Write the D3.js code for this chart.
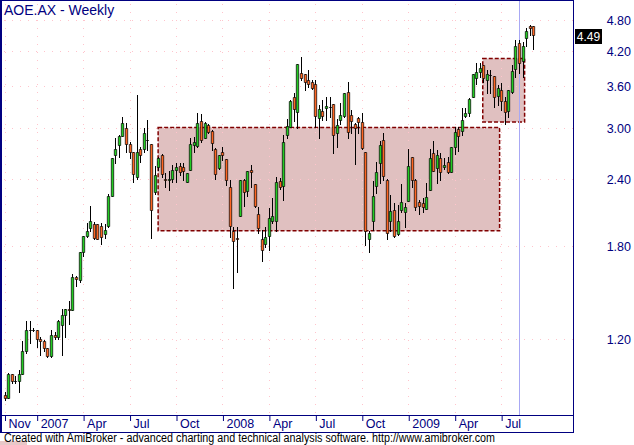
<!DOCTYPE html>
<html>
<head>
<meta charset="utf-8">
<script src="https://cdn.jsdelivr.net/npm/d3@7"></script>
<style>
  html, body { margin: 0; padding: 0; background: #fff; }
  svg { display: block; }
</style>
</head>
<body>
<div id="chart"></div>
<script>
// ---------------- DATA ----------------
const title = "AOE.AX - Weekly";
const firstWeek = "2006-11-03";   // weekly bars, one per Friday

const openP = [0.94,0.93,1.03,1.00,1.00,1.03,1.14,1.25,1.25,1.25,1.20,1.19,1.155,1.115,1.22,1.21,1.275,1.33,1.37,1.36,
  1.57,1.55,1.75,1.88,1.94,1.975,1.975,1.96,1.895,1.96,2.235,2.67,2.785,2.905,3.00,2.80,2.71,2.43,2.735,2.735,
  2.85,2.80,2.275,2.53,2.665,2.40,2.395,2.41,2.505,2.54,2.53,2.375,2.50,2.79,2.78,3.095,2.88,3.04,2.965,2.745,
  2.525,2.70,2.62,2.32,1.915,1.865,2.05,2.395,2.285,2.50,2.35,2.065,1.855,1.81,1.875,2.005,2.00,2.385,2.33,2.915,
  3.01,3.43,3.22,3.805,3.795,3.70,3.67,3.635,3.135,3.23,3.27,3.295,3.33,2.935,3.11,3.165,3.505,3.17,3.05,3.13,
  3.075,2.70,1.85,2.00,2.335,2.575,2.855,2.395,2.00,2.105,1.89,2.10,2.085,2.19,2.645,2.395,2.175,2.17,2.115,2.295,
  2.69,2.525,2.63,2.53,2.595,2.48,2.76,2.985,2.965,3.16,3.21,3.44,3.725,3.835,3.945,3.705,3.78,3.76,3.455,3.54,
  3.38,3.235,3.515,3.88,4.335,4.02,4.43,4.67,4.67];
const highP = [0.955,1.035,1.03,1.02,1.05,1.19,1.30,1.30,1.26,1.25,1.21,1.195,1.155,1.25,1.235,1.305,1.37,1.37,1.415,1.59,
  1.575,1.75,1.88,1.99,2.14,1.995,1.98,1.985,1.98,2.25,2.635,2.875,2.91,3.145,3.07,2.83,2.71,3.46,2.77,3.00,
  3.11,2.80,2.54,2.645,2.68,2.465,2.49,2.555,2.575,2.575,2.575,2.465,2.88,2.89,3.20,3.19,3.085,3.055,2.97,2.75,
  2.67,2.765,2.62,2.395,1.95,1.955,2.395,2.40,2.49,2.555,2.35,2.13,1.925,1.955,2.12,2.21,2.43,2.415,2.91,3.115,
  3.39,3.49,3.96,4.08,3.80,3.86,3.70,3.70,3.315,3.39,3.44,3.43,3.33,3.115,3.34,3.49,3.66,3.245,3.07,3.15,
  3.20,2.70,1.915,2.385,2.595,2.84,2.935,2.40,2.245,2.165,2.15,2.355,2.17,2.74,2.645,2.40,2.195,2.21,2.36,2.735,
  2.835,2.73,2.69,2.63,2.65,2.765,3.01,3.01,3.27,3.27,3.415,3.79,3.975,3.975,3.95,3.87,3.87,3.765,3.62,3.645,
  3.43,3.54,3.945,4.40,4.40,4.365,4.63,4.695,4.68];
const lowP = [0.92,0.93,0.99,0.99,0.955,1.03,1.13,1.18,1.24,1.16,1.12,1.14,1.11,1.11,1.20,1.20,1.12,1.21,1.28,1.36,
  1.51,1.535,1.72,1.87,1.92,1.855,1.85,1.815,1.86,1.955,2.235,2.575,2.65,2.905,2.71,2.64,2.37,2.40,2.59,2.71,
  2.73,1.865,2.255,2.50,2.43,2.325,2.29,2.375,2.375,2.445,2.395,2.375,2.50,2.71,2.765,2.83,2.87,2.94,2.73,2.40,
  2.51,2.61,2.345,1.87,1.495,1.605,2.045,2.14,2.235,2.325,2.125,1.90,1.685,1.79,1.765,1.985,1.92,2.30,2.195,2.88,
  3.01,3.10,3.00,3.70,3.54,3.59,3.55,3.02,2.87,3.11,3.11,3.15,2.69,2.765,3.06,3.15,2.88,2.935,2.565,2.935,
  2.74,1.805,1.75,1.925,2.26,2.36,2.395,1.855,1.915,1.87,1.885,2.085,1.955,2.19,2.325,2.10,2.07,2.085,2.11,2.29,
  2.49,2.365,2.395,2.515,2.465,2.48,2.68,2.72,2.91,3.15,3.16,3.44,3.635,3.75,3.67,3.50,3.50,3.285,3.315,3.245,
  3.055,3.15,3.49,3.75,3.805,3.75,4.29,4.50,4.24];
const closeP = [0.93,1.03,1.00,1.00,1.03,1.14,1.25,1.25,1.25,1.20,1.19,1.155,1.115,1.22,1.21,1.30,1.33,1.37,1.36,1.57,
  1.555,1.75,1.88,1.92,2.00,1.86,1.855,1.87,1.93,2.235,2.63,2.745,2.905,3.065,2.80,2.71,2.455,2.70,2.665,2.935,
  2.845,2.105,2.445,2.64,2.455,2.395,2.40,2.50,2.53,2.48,2.49,2.465,2.795,2.825,3.065,2.855,3.065,2.955,2.81,2.455,
  2.665,2.675,2.395,1.96,1.835,1.85,2.395,2.275,2.485,2.475,2.14,1.94,1.77,1.87,2.03,2.045,2.37,2.325,2.82,3.03,
  3.375,3.265,3.96,3.735,3.67,3.64,3.565,3.165,3.255,3.165,3.30,3.29,2.915,3.035,3.175,3.49,2.945,3.09,3.00,3.085,
  2.755,1.915,1.90,2.235,2.475,2.785,2.44,1.905,2.09,1.875,2.00,2.18,2.125,2.545,2.39,2.13,2.14,2.125,2.22,2.64,
  2.495,2.665,2.48,2.555,2.475,2.76,2.955,2.90,3.11,3.20,3.40,3.79,3.825,3.89,3.735,3.79,3.775,3.43,3.565,3.38,
  3.22,3.54,3.845,4.285,3.975,4.285,4.575,4.64,4.49];

// shaded ranges drawn on the chart (start date, end date, top price, bottom price)
const boxStart  = ["2007-08-30", "2009-05-27"];
const boxEnd    = ["2009-06-29", "2009-08-17"];
const boxTop    = [3.01, 4.06];
const boxBottom = [1.92, 3.08];

const cursorDate = "2009-08-07";

const yTicks = [1.20, 1.80, 2.40, 3.00, 3.60, 4.20, 4.80];
const xTickDates  = ["2006-11-03","2007-01-05","2007-04-06","2007-07-06","2007-10-05","2008-01-04",
                     "2008-04-04","2008-07-04","2008-10-03","2009-01-02","2009-04-03","2009-07-03"];
const xTickLabels = ["Nov","2007","Apr","Jul","Oct","2008","Apr","Jul","Oct","2009","Apr","Jul"];

const footer = "Created with AmiBroker - advanced charting and technical analysis software. http://www.amibroker.com";

// ---------------- CHART ----------------
const W = 634, H = 445;
const plotLeft = 1, plotRight = 573, plotTop = 0, plotBottom = 415, axisBottomY = 432;
const navy = "#000080";
const upColor = "#22cc22", downColor = "#ff6622";
const gridColor = "#ffc4cc";
const font = "'Liberation Sans', Arial, sans-serif";

const parse = d3.timeParse("%Y-%m-%d");
const start = parse(firstWeek);
const dates = openP.map((_, i) => d3.timeDay.offset(start, 7 * i));
const bars = dates.map((d, i) => ({ date: d, o: openP[i], h: highP[i], l: lowP[i], c: closeP[i] }));

const x = d3.scaleTime().domain([dates[0], dates[dates.length - 1]]).range([5, 533.8]);
const y = d3.scaleLog().domain([0.8624, 5.236]).range([plotBottom, plotTop]);

const svg = d3.select("#chart").append("svg").attr("width", W).attr("height", H)
  .style("font-family", font);
svg.append("rect").attr("width", W).attr("height", H).attr("fill", "#fff");

// shaded boxes
const boxes = boxStart.map((s, i) => ({ s: parse(s), e: parse(boxEnd[i]), t: boxTop[i], b: boxBottom[i] }));
svg.append("g").selectAll("rect").data(boxes).join("rect")
  .attr("x", d => x(d.s)).attr("y", d => y(d.t))
  .attr("width", d => x(d.e) - x(d.s)).attr("height", d => y(d.b) - y(d.t))
  .attr("fill", "#e0c0c0").attr("stroke", "#800000").attr("stroke-width", 1.5)
  .attr("stroke-dasharray", "4,2");

// grid
const grid = svg.append("g");
grid.selectAll("line.h").data(yTicks).join("line").attr("class", "h")
  .attr("x1", 4).attr("x2", 578)
  .attr("y1", d => Math.round(y(d)) + 0.5).attr("y2", d => Math.round(y(d)) + 0.5)
  .attr("stroke", gridColor).attr("stroke-dasharray", "1,7");
grid.selectAll("line.v").data(xTickDates.map(parse)).join("line").attr("class", "v")
  .attr("x1", d => Math.floor(x(d)) + 0.5).attr("x2", d => Math.floor(x(d)) + 0.5)
  .attr("y1", 4).attr("y2", plotBottom)
  .attr("stroke", gridColor).attr("stroke-dasharray", "1,7");

// cursor line
const cx0 = Math.floor(x(parse(cursorDate))) + 0.5;
svg.append("line").attr("x1", cx0).attr("x2", cx0).attr("y1", 1).attr("y2", plotBottom)
  .attr("stroke", "#a8a8f4").attr("stroke-width", 1);

// candles
const cg = svg.append("g");
const candle = cg.selectAll("g").data(bars).join("g");
candle.append("line")
  .attr("x1", d => Math.floor(x(d.date)) + 0.5).attr("x2", d => Math.floor(x(d.date)) + 0.5)
  .attr("y1", d => Math.round(y(d.h))).attr("y2", d => Math.round(y(d.l)) + 1)
  .attr("stroke", "#000").attr("stroke-width", 1);
candle.append("path")
  .attr("d", d => {
    const c = Math.floor(x(d.date));
    const t = Math.round(Math.min(y(d.o), y(d.c))) + 0.5;
    const b = Math.round(Math.max(y(d.o), y(d.c))) + 0.5;
    return `M${c - 0.7},${t}H${c + 1.7}V${b}H${c - 0.7}Z`;
  })
  .attr("fill", d => d.c >= d.o ? upColor : downColor)
  .attr("stroke", "#000").attr("stroke-width", 0.7);

// frame
const frame = svg.append("g").attr("stroke", navy).attr("fill", "none");
frame.append("line").attr("x1", plotLeft).attr("x2", plotLeft).attr("y1", 0).attr("y2", axisBottomY + 0.5).attr("stroke-width", 2);
frame.append("line").attr("x1", plotRight + 0.5).attr("x2", plotRight + 0.5).attr("y1", 0).attr("y2", axisBottomY + 1);
frame.append("line").attr("x1", 0).attr("x2", plotRight + 1).attr("y1", 0.5).attr("y2", 0.5);
frame.append("line").attr("x1", 0).attr("x2", plotRight + 1).attr("y1", plotBottom + 0.5).attr("y2", plotBottom + 0.5);
frame.append("line").attr("x1", 0).attr("x2", plotRight + 1).attr("y1", axisBottomY + 0.5).attr("y2", axisBottomY + 0.5);

// x axis
const xAxis = d3.axisBottom(x).tickValues(xTickDates.map(parse))
  .tickFormat((d, i) => xTickLabels[i]).tickSize(5).tickPadding(0);
const gx = svg.append("g").attr("transform", `translate(0,${plotBottom + 1})`).call(xAxis);
gx.select(".domain").remove();
gx.selectAll(".tick line").attr("stroke", navy);
gx.selectAll(".tick text").attr("text-anchor", "start").attr("x", 3).attr("y", 12).attr("dy", null)
  .attr("fill", navy).style("font-size", "12.5px").style("font-family", font);

// y axis
const yAxis = d3.axisRight(y).tickValues(yTicks).tickFormat(d3.format(".2f")).tickSize(0).tickPadding(0);
const gy = svg.append("g").attr("transform", `translate(${plotRight},0)`).call(yAxis);
gy.select(".domain").remove();
gy.selectAll(".tick line").remove();
gy.selectAll(".tick text").attr("text-anchor", "end").attr("x", 58).attr("dy", "0.36em")
  .attr("fill", navy).style("font-size", "12.5px").style("font-family", font);

// last price label
const last = closeP[closeP.length - 1];
const ly = y(last);
svg.append("rect").attr("x", 575).attr("y", Math.round(ly) - 6).attr("width", 27).attr("height", 15).attr("fill", "#000");
svg.append("text").attr("x", 588.5).attr("y", Math.round(ly) + 6).attr("text-anchor", "middle")
  .attr("fill", "#fff").style("font-size", "12px").text(d3.format(".2f")(last));

// title
svg.append("text").attr("x", 4).attr("y", 15).attr("fill", navy).style("font-size", "14px").text(title);

// footer
svg.append("rect").attr("x", 0).attr("y", 441).attr("width", 27).attr("height", 4).attr("fill", "#e8c8c8");
svg.append("text").attr("x", 4).attr("y", 442).attr("fill", "#000").style("font-size", "12px")
  .attr("textLength", 491).attr("lengthAdjust", "spacingAndGlyphs").text(footer);
</script>
</body>
</html>
